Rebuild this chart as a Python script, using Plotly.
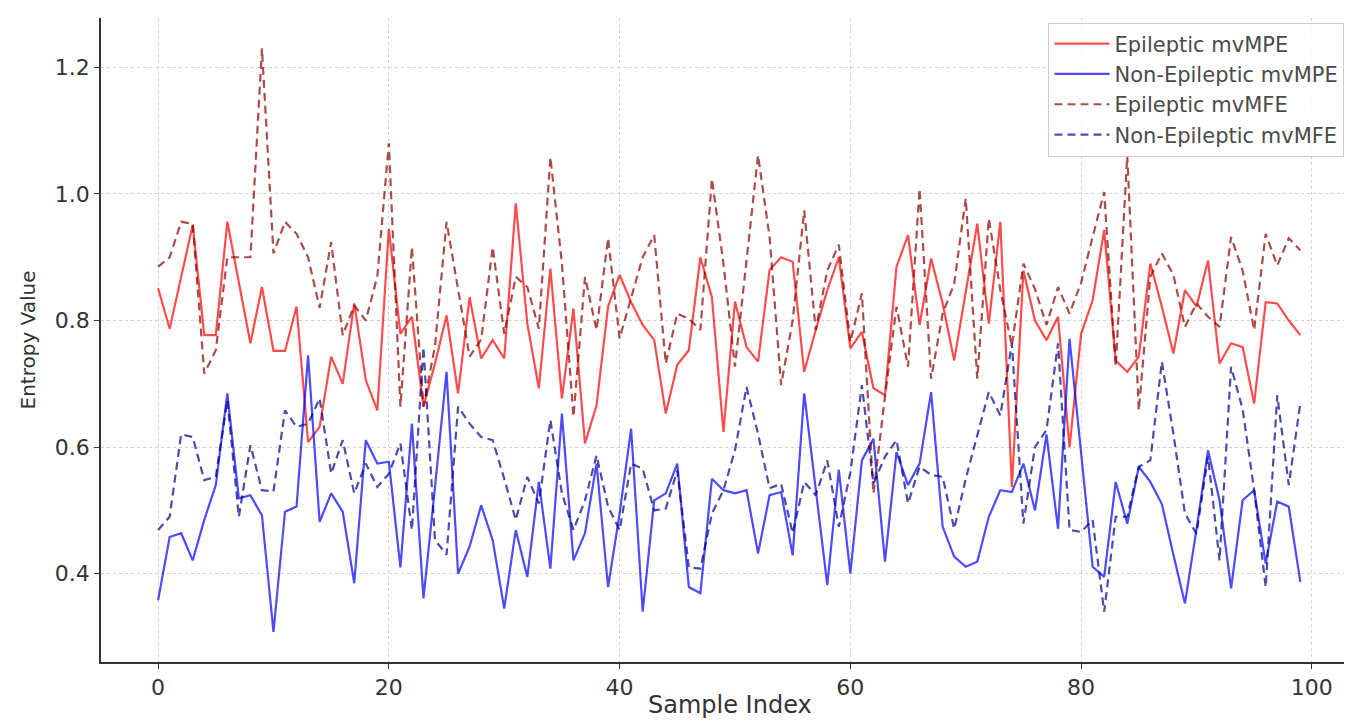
import plotly.graph_objects as go

sample_index = list(range(100))

epileptic_mvmpe = [
    0.851, 0.787, 0.869, 0.951, 0.777, 0.777, 0.956, 0.860, 0.764, 0.853,
    0.752, 0.752, 0.822, 0.608, 0.632, 0.743, 0.700, 0.827, 0.706, 0.658,
    0.945, 0.779, 0.806, 0.664, 0.732, 0.808, 0.685, 0.837, 0.740, 0.769,
    0.740, 0.985, 0.795, 0.693, 0.882, 0.677, 0.819, 0.606, 0.666, 0.822,
    0.872, 0.829, 0.793, 0.769, 0.653, 0.730, 0.753, 0.900, 0.837, 0.624,
    0.830, 0.758, 0.735, 0.880, 0.900, 0.893, 0.719, 0.785, 0.848, 0.900,
    0.756, 0.782, 0.693, 0.682, 0.885, 0.935, 0.793, 0.898, 0.827, 0.737,
    0.843, 0.953, 0.795, 0.956, 0.537, 0.879, 0.800, 0.769, 0.806, 0.600,
    0.779, 0.832, 0.943, 0.737, 0.719, 0.743, 0.890, 0.822, 0.748, 0.848,
    0.822, 0.895, 0.732, 0.764, 0.758, 0.669, 0.829, 0.827, 0.800, 0.777,
]

non_epileptic_mvmpe = [
    0.358, 0.458, 0.464, 0.421, 0.485, 0.540, 0.685, 0.519, 0.524, 0.492,
    0.308, 0.498, 0.506, 0.745, 0.482, 0.527, 0.498, 0.385, 0.611, 0.574,
    0.577, 0.410, 0.637, 0.361, 0.537, 0.719, 0.400, 0.443, 0.508, 0.453,
    0.345, 0.469, 0.395, 0.545, 0.408, 0.653, 0.421, 0.464, 0.574, 0.379,
    0.495, 0.629, 0.340, 0.516, 0.527, 0.574, 0.379, 0.369, 0.550, 0.532,
    0.527, 0.532, 0.432, 0.524, 0.529, 0.429, 0.685, 0.530, 0.382, 0.564,
    0.400, 0.579, 0.613, 0.419, 0.592, 0.540, 0.574, 0.687, 0.474, 0.427,
    0.411, 0.419, 0.490, 0.532, 0.529, 0.574, 0.500, 0.620, 0.471, 0.771,
    0.590, 0.411, 0.395, 0.545, 0.479, 0.569, 0.545, 0.510, 0.430, 0.353,
    0.470, 0.595, 0.516, 0.377, 0.516, 0.532, 0.416, 0.514, 0.506, 0.387,
]

epileptic_mvmfe = [
    0.885, 0.900, 0.956, 0.953, 0.716, 0.753, 0.900, 0.900, 0.900, 1.230,
    0.906, 0.956, 0.937, 0.900, 0.820, 0.924, 0.777, 0.824, 0.800, 0.870,
    1.080, 0.664, 0.916, 0.664, 0.760, 0.956, 0.848, 0.743, 0.770, 0.916,
    0.779, 0.869, 0.853, 0.787, 1.058, 0.890, 0.648, 0.869, 0.785, 0.930,
    0.772, 0.837, 0.900, 0.935, 0.732, 0.811, 0.803, 0.785, 1.024, 0.890,
    0.727, 0.895, 1.061, 0.932, 0.698, 0.800, 0.974, 0.785, 0.879, 0.920,
    0.766, 0.843, 0.527, 0.680, 0.822, 0.727, 1.008, 0.708, 0.811, 0.858,
    0.993, 0.708, 0.961, 0.848, 0.760, 0.890, 0.850, 0.793, 0.853, 0.811,
    0.860, 0.932, 1.003, 0.727, 1.061, 0.658, 0.869, 0.906, 0.872, 0.790,
    0.827, 0.806, 0.790, 0.932, 0.879, 0.785, 0.937, 0.887, 0.930, 0.911,
]

non_epileptic_mvmfe = [
    0.469, 0.490, 0.620, 0.616, 0.548, 0.553, 0.674, 0.490, 0.603, 0.532,
    0.530, 0.658, 0.632, 0.637, 0.677, 0.558, 0.611, 0.527, 0.574, 0.537,
    0.558, 0.606, 0.469, 0.758, 0.453, 0.430, 0.664, 0.637, 0.616, 0.611,
    0.550, 0.485, 0.553, 0.511, 0.643, 0.527, 0.469, 0.516, 0.587, 0.506,
    0.469, 0.574, 0.566, 0.500, 0.503, 0.563, 0.410, 0.408, 0.495, 0.532,
    0.595, 0.695, 0.621, 0.535, 0.542, 0.464, 0.545, 0.524, 0.579, 0.474,
    0.560, 0.698, 0.542, 0.585, 0.611, 0.511, 0.569, 0.556, 0.553, 0.471,
    0.550, 0.620, 0.687, 0.650, 0.764, 0.479, 0.600, 0.627, 0.764, 0.469,
    0.466, 0.485, 0.340, 0.490, 0.490, 0.569, 0.579, 0.735, 0.621, 0.495,
    0.463, 0.585, 0.421, 0.727, 0.660, 0.532, 0.379, 0.682, 0.540, 0.669,
]

x_ticks = [0, 20, 40, 60, 80, 100]
y_ticks = [0.4, 0.6, 0.8, 1.0, 1.2]

series = [
    ("Epileptic mvMPE", epileptic_mvmpe, "#ff0000", "solid"),
    ("Non-Epileptic mvMPE", non_epileptic_mvmpe, "#0000ff", "solid"),
    ("Epileptic mvMFE", epileptic_mvmfe, "#8b0000", "8px,5px"),
    ("Non-Epileptic mvMFE", non_epileptic_mvmfe, "#00008b", "8px,5px"),
]

fig = go.Figure()
for name, vals, color, dash in series:
    fig.add_trace(go.Scatter(
        x=sample_index, y=vals, mode="lines", name=name,
        line=dict(color=color, width=2.2, dash=dash),
        opacity=0.7,
    ))

axis_common = dict(
    showline=True, linecolor="#333333", linewidth=1.5, mirror=False,
    ticks="outside", ticklen=5, tickwidth=1.2, tickcolor="#333333",
    showgrid=True, gridcolor="#d2d2d2", griddash="dot", gridwidth=1,
    zeroline=False, automargin=False,
    tickfont=dict(family="DejaVu Sans", size=22, color="#333333"),
)

fig.update_layout(
    width=1344, height=713,
    margin=dict(l=93, r=0, t=10, b=59, autoexpand=False),
    paper_bgcolor="white", plot_bgcolor="white",
    font=dict(family="DejaVu Sans", color="#333333"),
    xaxis=dict(range=[-4.95, 103.48], tickvals=x_ticks,
               ticktext=[str(v) for v in x_ticks], **axis_common),
    yaxis=dict(range=[0.2605, 1.278], tickvals=y_ticks,
               ticktext=[f"{v:.1f}" for v in y_ticks], **axis_common),
    showlegend=True,
    legend=dict(
        x=0.994, y=0.993, xanchor="right", yanchor="top",
        bgcolor="rgba(255,255,255,0.85)", bordercolor="#cccccc", borderwidth=1,
        font=dict(family="DejaVu Sans", size=21, color="#4a4a4a"),
        tracegroupgap=0, itemwidth=55,
    ),
    annotations=[
        dict(text="Sample Index", xref="paper", yref="paper", x=0.503, y=-0.067,
             xanchor="center", yanchor="middle", showarrow=False,
             font=dict(family="DejaVu Sans", size=24, color="#333333")),
        dict(text="Entropy Value", xref="paper", yref="paper", x=-0.058, y=0.5,
             xanchor="center", yanchor="middle", showarrow=False, textangle=-90,
             font=dict(family="DejaVu Sans", size=20, color="#333333")),
    ],
)

fig.write_html("out.html")
